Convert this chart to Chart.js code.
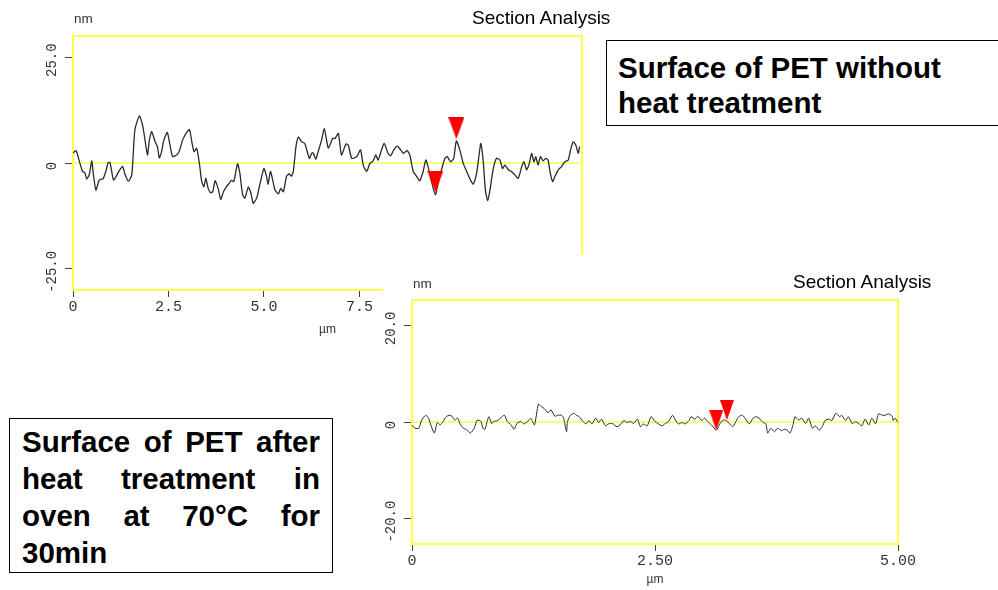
<!DOCTYPE html>
<html>
<head>
<meta charset="utf-8">
<script src="https://cdn.jsdelivr.net/npm/chart.js"></script>
<style>
  body { margin: 0; width: 998px; height: 590px; overflow: hidden; background: #fff; position: relative; font-family: "Liberation Sans", Arial, sans-serif; }
  .abs { position: absolute; }
  .unit { font-size: 13.5px; line-height: 1; color: #333; }
  .title { font-size: 19px; line-height: 1; color: #000; white-space: nowrap; }
  .box { position: absolute; border: 1px solid #000; background: #fff; font-weight: bold; font-size: 29.5px; color: #000; box-sizing: border-box; }
</style>
</head>
<body>

<canvas id="chart1" class="abs" style="left:0;top:0" width="620" height="340"></canvas>
<div class="abs unit" style="left:74px;top:12px">nm</div>
<div class="abs title" style="left:472px;top:8px">Section Analysis</div>

<div class="box" style="left:606px;top:40px;width:400px;height:86px;padding:9px 11px;line-height:35px">Surface of PET without<br>heat treatment</div>

<canvas id="chart2" class="abs" style="left:383px;top:255px;background:#fff" width="615" height="335"></canvas>
<div class="abs unit" style="left:413px;top:277px">nm</div>
<div class="abs title" style="left:793px;top:272px">Section Analysis</div>

<div class="box" style="left:9px;top:418px;width:324px;height:155px;padding:4px 12px;line-height:37px;text-align:justify">Surface of PET after heat treatment in oven at 70°C for 30min</div>

<script>
// ---- chart 1: PET without heat treatment (µm / nm) ----
const x1 = [0.00,0.08,0.17,0.25,0.31,0.36,0.43,0.49,0.53,0.60,0.69,0.79,0.88,0.92,0.97,1.06,1.14,1.21,1.30,1.36,
  1.45,1.54,1.62,1.74,1.82,1.88,1.95,2.00,2.06,2.15,2.21,2.26,2.32,2.38,2.47,2.54,2.61,2.71,2.78,2.87,
  2.96,3.05,3.12,3.17,3.24,3.31,3.37,3.43,3.48,3.54,3.60,3.66,3.72,3.80,3.87,3.94,4.02,4.09,4.15,4.21,
  4.31,4.37,4.44,4.50,4.59,4.65,4.72,4.81,4.90,5.00,5.07,5.11,5.17,5.23,5.29,5.38,5.44,5.51,5.59,5.66,
  5.72,5.77,5.84,5.90,5.99,6.07,6.19,6.25,6.29,6.36,6.42,6.51,6.58,6.64,6.69,6.80,6.86,6.95,7.03,7.15,
  7.21,7.30,7.43,7.53,7.60,7.69,7.77,7.86,7.93,7.99,8.08,8.15,8.25,8.32,8.40,8.49,8.58,8.65,8.75,8.82,
  8.91,9.00,9.08,9.17,9.24,9.30,9.39,9.49,9.56,9.65,9.74,9.80,9.89,9.97,10.04,10.13,10.22,10.31,10.41,10.48,
  10.57,10.64,10.68,10.74,10.80,10.86,10.92,11.00,11.09,11.18,11.25,11.31,11.40,11.48,11.57,11.66,11.75,11.81,11.88,11.95,
  12.01,12.07,12.12,12.18,12.24,12.31,12.38,12.44,12.50,12.56,12.62,12.71,12.79,12.88,12.97,13.03,13.10,13.17,13.23,13.27]
const nm1 = [2.4,2.9,0.3,-2.0,-2.3,-3.8,-2.6,0.5,-2.4,-6.4,-4.0,-3.7,-1.3,0.1,0.1,-4.0,-3.0,-1.8,-0.8,-2.6,
  -4.3,-2.8,7.8,11.1,9.0,5.8,1.9,5.4,7.4,5.0,3.9,1.2,2.7,5.4,7.2,4.2,1.5,1.9,2.7,5.4,
  7.0,7.9,4.6,2.7,3.5,-0.1,-4.3,-5.6,-3.6,-6.0,-7.0,-6.8,-4.2,-6.0,-8.6,-6.8,-5.6,-4.8,-4.1,-4.4,
  -0.2,-2.4,-7.4,-8.3,-5.7,-6.8,-9.5,-8.3,-4.8,-1.3,-3.2,-5.0,-2.0,-4.0,-6.4,-7.3,-6.0,-6.8,-3.2,-2.6,
  -3.1,-2.0,3.9,6.1,5.0,4.6,1.1,2.3,2.4,0.9,2.7,5.4,8.2,5.4,3.5,5.8,5.8,7.0,1.9,4.5,
  4.2,1.1,1.5,3.1,-0.5,-2.0,-0.2,0.5,1.9,0.7,3.1,4.6,2.3,1.7,3.1,4.0,3.1,2.3,2.9,1.9,
  -2.0,-3.2,-4.2,-2.0,0.7,-0.9,-4.4,-7.5,-4.8,-1.6,1.1,1.5,0.3,1.1,5.2,3.1,-0.1,-2.0,-4.0,-5.0,
  -2.4,2.3,4.6,0.7,-6.4,-8.9,-6.4,-1.6,1.1,0.7,-1.3,-0.5,-1.6,-2.0,-2.8,-3.6,-0.9,0.3,-1.6,-0.1,
  2.3,0.3,1.5,-0.5,1.5,0.5,1.1,0.7,-2.4,-4.4,-3.2,-1.6,-0.9,0.3,0.7,3.1,5.0,4.2,2.3,3.9]
const markX1 = [9.49, 10.04]
const markY1 = [-7.0, 5.6]
const xTicks1 = [0, 2.5, 5, 7.5, 10, 12.5]
const xLabels1 = ['0', '2.5', '5.0', '7.5', '10.0', '12.5']
const yTicks1 = [-25, 0, 25]
const yLabels1 = ['-25.0', '0', '25.0']

// ---- chart 2: PET after 70°C / 30min ----
const x2 = [0.00,0.03,0.07,0.10,0.14,0.17,0.20,0.23,0.26,0.29,0.32,0.35,0.39,0.41,0.44,0.47,0.50,0.53,0.57,0.60,
  0.64,0.67,0.71,0.73,0.75,0.79,0.82,0.84,0.88,0.91,0.95,0.98,1.02,1.05,1.08,1.12,1.15,1.19,1.22,1.26,
  1.30,1.33,1.36,1.40,1.43,1.47,1.50,1.54,1.56,1.59,1.60,1.63,1.67,1.69,1.72,1.76,1.79,1.82,1.85,1.89,
  1.92,1.95,1.99,2.02,2.06,2.11,2.15,2.18,2.21,2.25,2.28,2.32,2.35,2.38,2.42,2.46,2.50,2.53,2.57,2.60,
  2.64,2.68,2.71,2.74,2.78,2.81,2.85,2.87,2.91,2.94,2.98,3.01,3.04,3.08,3.13,3.16,3.20,3.23,3.27,3.30,
  3.34,3.36,3.40,3.44,3.47,3.51,3.54,3.57,3.61,3.64,3.66,3.69,3.73,3.76,3.80,3.83,3.86,3.89,3.92,3.94,
  3.98,4.01,4.05,4.08,4.12,4.15,4.19,4.22,4.25,4.29,4.32,4.36,4.40,4.42,4.46,4.49,4.53,4.56,4.60,4.63,
  4.66,4.70,4.73,4.77,4.80,4.84,4.87,4.90,4.94,4.95,4.97,5.00]
const nm2 = [-0.6,-1.3,-1.3,0.4,1.4,0.8,-1.0,-2.3,-0.1,-0.6,0.1,1.1,1.4,1.2,0.4,0.8,-0.6,-1.3,-1.7,-2.3,
  -1.3,0.4,0.1,-1.3,-1.5,1.1,-0.3,0.1,0.3,0.8,1.4,0.1,-0.6,-1.5,-0.3,0.1,-0.4,0.1,0.8,-0.6,
  3.7,3.2,2.8,1.9,2.5,1.2,1.4,1.4,0.8,-2.0,0.1,1.4,1.8,1.4,1.1,0.1,-0.4,0.3,-0.4,0.8,
  -0.1,0.6,-0.8,-0.4,-0.3,-1.0,-0.4,0.3,-0.1,0.1,-0.3,0.6,-1.0,-0.4,-0.8,1.1,0.1,-0.3,-0.8,-0.4,
  0.1,1.4,0.4,-0.4,-0.1,-0.4,0.3,1.1,0.6,1.2,0.3,0.8,0.1,-0.6,-1.7,-0.6,0.4,0.3,-0.4,-1.0,
  0.4,1.1,1.4,0.4,-0.4,0.8,1.1,0.8,-0.1,-0.3,-2.3,-1.3,-2.0,-1.3,-1.8,-1.5,-1.7,-2.3,-0.6,1.1,
  0.4,0.8,-0.3,0.8,-1.3,-0.8,-1.7,-1.0,0.3,0.6,0.3,1.8,1.1,1.4,0.3,1.1,-0.4,0.1,-0.4,-0.8,
  0.6,-0.6,0.8,-0.4,1.7,1.4,1.4,1.7,1.2,0.3,0.8,-0.1]
const markX2 = [3.13, 3.24]
const markY2 = [-1.7, 0.4]
const xTicks2 = [0, 2.5, 5]
const xLabels2 = ['0', '2.50', '5.00']
const yTicks2 = [-20, 0, 20]
const yLabels2 = ['-20.0', '0', '20.0']

// red cursor triangle, tip sits at the centre of the image
function triangle(w, h) {
  const c = document.createElement('canvas')
  c.width = w
  c.height = h * 2
  const g = c.getContext('2d')
  g.fillStyle = '#ff0000'
  g.beginPath()
  g.moveTo(0, 0)
  g.lineTo(w, 0)
  g.lineTo(w / 2, h)
  g.closePath()
  g.fill()
  return c
}

// yellow frame + zero line, and the rotated y labels
const sectionFrame = {
  id: 'sectionFrame',
  beforeDatasetsDraw(chart) {
    const { ctx, chartArea: a, scales } = chart
    ctx.save()
    ctx.strokeStyle = '#ffff44'
    ctx.lineWidth = 2
    ctx.strokeRect(a.left, a.top, a.right - a.left, a.bottom - a.top)
    const y0 = scales.y.getPixelForValue(0)
    ctx.lineWidth = 1.6
    ctx.beginPath()
    ctx.moveTo(a.left, y0)
    ctx.lineTo(a.right, y0)
    ctx.stroke()
    ctx.restore()
  },
  afterDraw(chart, args, opts) {
    const { ctx, scales } = chart
    ctx.save()
    ctx.font = '14px "Liberation Mono", monospace'
    ctx.fillStyle = '#333'
    ctx.textAlign = 'center'
    ctx.textBaseline = 'middle'
    opts.values.forEach((v, i) => {
      const y = scales.y.getPixelForValue(v)
      ctx.save()
      ctx.translate(opts.x, y + 3)
      ctx.rotate(-Math.PI / 2)
      ctx.fillText(opts.labels[i], 0, 0)
      ctx.restore()
    })
    ctx.restore()
  }
}

function makeChart(id, cfg) {
  const pts = cfg.xs.map((x, i) => ({ x: x, y: cfg.ys[i] }))
  const marks = cfg.mx.map((x, i) => ({ x: x, y: cfg.my[i] }))
  return new Chart(document.getElementById(id), {
    type: 'line',
    data: {
      datasets: [
        {
          data: marks,
          showLine: false,
          pointStyle: triangle(cfg.triW, cfg.triH),
          pointRadius: 5
        },
        {
          data: pts,
          borderColor: '#2a2a2a',
          borderWidth: cfg.lw,
          pointRadius: 0,
          tension: 0.2,
          fill: false
        }
      ]
    },
    options: {
      responsive: false,
      animation: false,
      events: [],
      layout: { padding: cfg.pad },
      plugins: {
        legend: { display: false },
        tooltip: { enabled: false },
        sectionFrame: { values: cfg.yTicks, labels: cfg.yLabels, x: cfg.labelX }
      },
      scales: {
        x: {
          type: 'linear',
          min: 0,
          max: cfg.xMax,
          afterBuildTicks: s => { s.ticks = cfg.xTicks.map(v => ({ value: v })) },
          afterFit: s => { s.height = cfg.xAxisH },
          ticks: {
            callback: (v, i) => cfg.xLabels[i],
            font: { family: '"Liberation Mono", monospace', size: 15 },
            color: '#333',
            padding: 1,
            maxRotation: 0,
            autoSkip: false
          },
          grid: { drawOnChartArea: false, tickLength: 7, color: '#444' },
          border: { display: false },
          title: {
            display: true,
            text: 'µm',
            font: { family: '"Liberation Sans", Arial, sans-serif', size: 12 },
            color: '#333',
            padding: { top: 0, bottom: 3 }
          }
        },
        y: {
          min: -cfg.yMax,
          max: cfg.yMax,
          afterBuildTicks: s => { s.ticks = cfg.yTicks.map(v => ({ value: v })) },
          afterFit: s => { s.width = cfg.yAxisW },
          ticks: { display: false },
          grid: { drawOnChartArea: false, tickLength: 8, color: '#444' },
          border: { display: false }
        }
      }
    },
    plugins: [sectionFrame]
  })
}

makeChart('chart1', {
  xs: x1, ys: nm1, mx: markX1, my: markY1,
  xTicks: xTicks1, xLabels: xLabels1, yTicks: yTicks1, yLabels: yLabels1,
  xMax: 13.33, yMax: 30, lw: 1.3, triW: 16, triH: 22,
  pad: { left: 0, top: 36, right: 38, bottom: 0 }, xAxisH: 50, yAxisW: 73, labelX: 52
})

makeChart('chart2', {
  xs: x2, ys: nm2, mx: markX2, my: markY2,
  xTicks: xTicks2, xLabels: xLabels2, yTicks: yTicks2, yLabels: yLabels2,
  xMax: 5, yMax: 25.26, lw: 1, triW: 14, triH: 20,
  pad: { left: 0, top: 45, right: 100, bottom: 0 }, xAxisH: 46, yAxisW: 29, labelX: 8
})
</script>
</body>
</html>
